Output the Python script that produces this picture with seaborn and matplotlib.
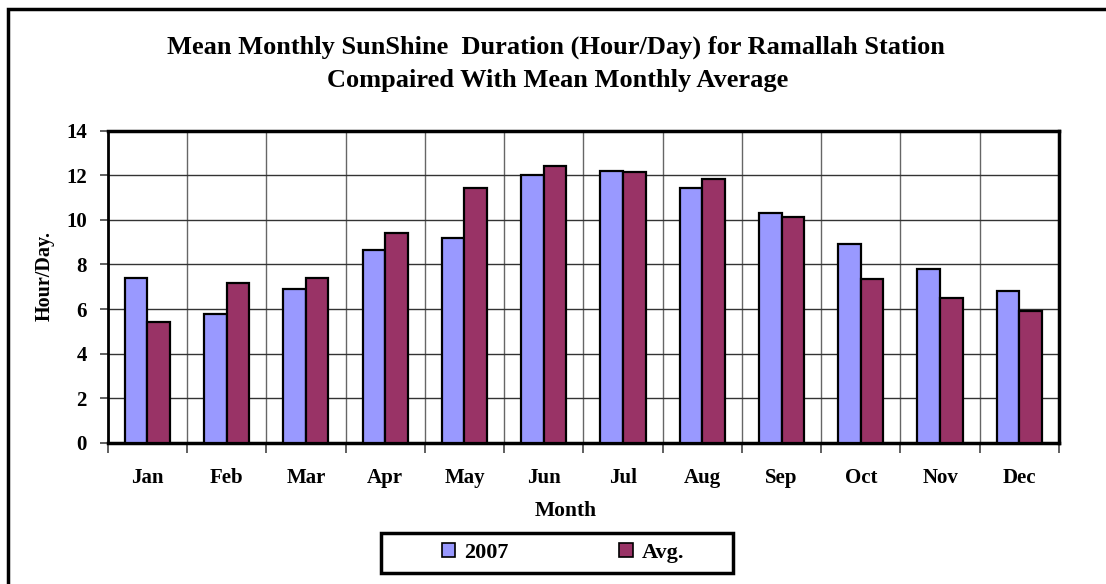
import matplotlib
matplotlib.use("Agg")
import matplotlib.pyplot as plt
from matplotlib.patches import Rectangle
import seaborn as sns
import pandas as pd
import numpy as np

months = ["Jan", "Feb", "Mar", "Apr", "May", "Jun", "Jul", "Aug", "Sep", "Oct", "Nov", "Dec"]
y2007 = [7.40, 5.77, 6.88, 8.64, 9.21, 12.01, 12.20, 11.43, 10.33, 8.90, 7.78, 6.83]
yavg = [5.40, 7.15, 7.40, 9.41, 11.43, 12.40, 12.14, 11.83, 10.14, 7.34, 6.49, 5.91]
series = ["2007", "Avg."]
colors = ["#9999FF", "#993366"]
yticks = [0, 2, 4, 6, 8, 10, 12, 14]

df = pd.DataFrame({
    "Month": months * 2,
    "Value": y2007 + yavg,
    "Series": [series[0]] * 12 + [series[1]] * 12,
})

sns.set_theme(style="white")
plt.rcParams["font.family"] = ["Liberation Serif", "DejaVu Serif"]
plt.rcParams["font.weight"] = "bold"
plt.rcParams["text.color"] = "black"
plt.rcParams["axes.labelcolor"] = "black"
plt.rcParams["xtick.color"] = "black"
plt.rcParams["ytick.color"] = "black"

fig = plt.figure(figsize=(11.06, 5.84), dpi=100)
ax = fig.add_axes([0.0974, 0.242, 0.8601, 0.534])

sns.barplot(data=df, x="Month", y="Value", hue="Series", palette=colors,
            width=0.57, edgecolor="black", linewidth=1.6, saturation=1,
            ax=ax, zorder=3)

ax.set_ylim(0, 14)
ax.set_xlim(-0.5, 11.5)
ax.set_yticks(yticks)
ax.set_yticklabels([str(v) for v in yticks], fontsize=15, fontweight="bold")
ax.set_xticks(range(12))
ax.set_xticklabels(months, fontsize=15, fontweight="bold")
ax.set_xticks(np.arange(-0.5, 12, 1), minor=True)
ax.tick_params(axis="x", which="major", length=0, pad=18)
ax.tick_params(axis="x", which="minor", length=7, width=1.2, color="#444444", direction="out", bottom=True)
ax.tick_params(axis="y", which="major", length=6, width=1.2, color="#444444", direction="out", left=True, pad=9)

ax.grid(False)
ax.yaxis.grid(True, color="#333333", linewidth=1.0, zorder=0)
ax.xaxis.grid(True, which="minor", color="#666666", linewidth=1.0, zorder=0)
ax.set_axisbelow(True)

for s in ax.spines.values():
    s.set_visible(True)
    s.set_color("black")
    s.set_linewidth(2.5)
ax.spines["left"].set_linewidth(2.0)

ax.set_xlabel("Month", fontsize=15.5, fontweight="bold", va="center")
ax.xaxis.set_label_coords(0.482, (442.7 - 511) / 312)
ax.set_ylabel("Hour/Day.", fontsize=14.5, fontweight="bold", va="center")
ax.yaxis.set_label_coords((44.5 - 107.7) / 951, (442.7 - 276) / 312)

fig.text(0.5027, 0.919, "Mean Monthly SunShine  Duration (Hour/Day) for Ramallah Station",
         ha="center", va="center", fontsize=19, fontweight="bold")
fig.text(0.5045, 0.863, "Compaired With Mean Monthly Average",
         ha="center", va="center", fontsize=19, fontweight="bold")

handles, labels = ax.get_legend_handles_labels()
if ax.get_legend() is not None:
    ax.get_legend().remove()
leg = fig.legend(handles, labels, loc="center", bbox_to_anchor=(563 / 1106, (584 - 553) / 584),
                 ncol=2, frameon=False,
                 prop={"weight": "bold", "size": 16}, handlelength=0.6,
                 handleheight=0.6, handletextpad=0.4, columnspacing=5.0,
                 borderpad=0, borderaxespad=0)
for h in leg.legend_handles:
    h.set_edgecolor("black")
    h.set_linewidth(1.2)

legbox = Rectangle((381 / 1106, (584 - 573) / 584), 352 / 1106, 40 / 584,
                   transform=fig.transFigure, fill=False, edgecolor="black",
                   linewidth=2.5, clip_on=False)
fig.patches.append(legbox)

border = Rectangle((7.5 / 1106, -0.1), 1.2, (584 - 9.5) / 584 + 0.1,
                   transform=fig.transFigure, fill=False, edgecolor="black",
                   linewidth=2.5, clip_on=False)
fig.patches.append(border)

fig.savefig("out.png", dpi=100)
